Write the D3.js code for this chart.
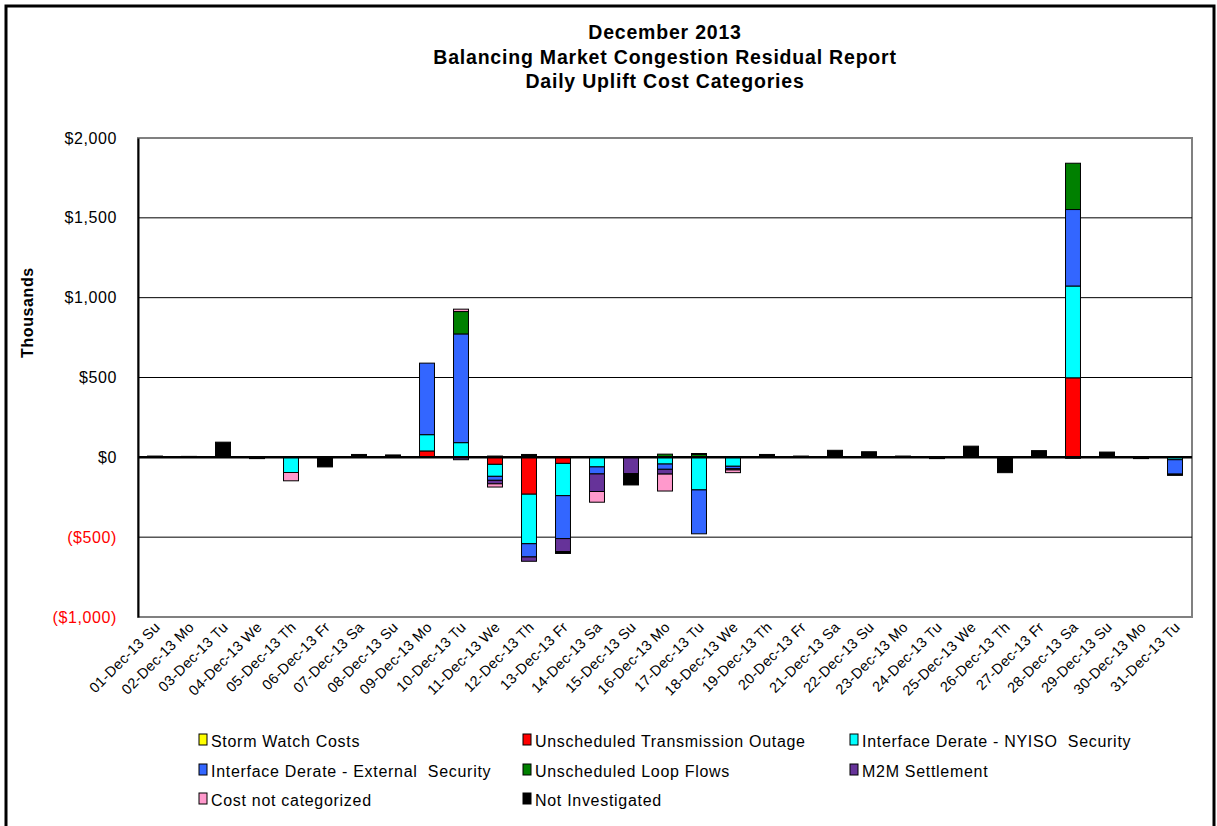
<!DOCTYPE html>
<html>
<head>
<meta charset="utf-8">
<script src="https://cdn.jsdelivr.net/npm/d3@7"></script>
<style>
  body { margin: 0; background: #fff; }
  svg { display: block; font-family: Arial, "Liberation Sans", sans-serif; }
</style>
</head>
<body>
<svg id="chart" width="1217" height="826"></svg>
<script>
// Day labels along the x axis
const days = [
    '01-Dec-13 Su', '02-Dec-13 Mo', '03-Dec-13 Tu', '04-Dec-13 We', '05-Dec-13 Th',
    '06-Dec-13 Fr', '07-Dec-13 Sa', '08-Dec-13 Su', '09-Dec-13 Mo', '10-Dec-13 Tu',
    '11-Dec-13 We', '12-Dec-13 Th', '13-Dec-13 Fr', '14-Dec-13 Sa', '15-Dec-13 Su',
    '16-Dec-13 Mo', '17-Dec-13 Tu', '18-Dec-13 We', '19-Dec-13 Th', '20-Dec-13 Fr',
    '21-Dec-13 Sa', '22-Dec-13 Su', '23-Dec-13 Mo', '24-Dec-13 Tu', '25-Dec-13 We',
    '26-Dec-13 Th', '27-Dec-13 Fr', '28-Dec-13 Sa', '29-Dec-13 Su', '30-Dec-13 Mo',
    '31-Dec-13 Tu'
];

// Series values, $ thousands, one per day
const stormWatch = [0,0,0,0,0, 0,0,0,0,0, 0,0,0,0,0, 0,0,0,0,0, 0,0,0,0,0, 0,0,0,0,0, 0];
const outage     = [0,0,0,0,0, 0,0,0,40,0, -44,-231,-38,0,0, 0,0,0,0,0, 0,0,0,0,0, 0,0,498,0,0, 0];
const nyisoSec   = [0,0,0,0,-95, 0,0,0,102,92, -75,-310,-202,-60,0, -42,-204,-56,0,0, 0,0,0,0,0, 0,0,575,0,0, -15];
const extSec     = [0,0,0,0,0, 0,0,0,448,681, -25,-83,-269,-44,0, -33,-275,-15,0,0, 0,0,0,0,0, 0,0,479,0,0, -90];
const loopFlows  = [0,0,0,0,0, 0,0,0,0,140, 0,0,0,0,0, 20,18,0,0,0, 0,0,0,0,0, 0,0,290,0,0, 0];
const m2m        = [0,0,0,0,0, 0,0,0,0,-15, -22,-27,-81,-110,-102, -30,0,-8,0,0, 0,0,0,0,0, 0,0,0,0,0, 0];
const notCat     = [0,0,0,0,-52, 0,0,0,0,15, -20,0,0,-67,0, -106,0,-17,0,0, 0,0,0,0,0, 0,0,0,0,0, 0];
const notInv     = [8,6,95,-8,0, -60,18,15,0,0, 8,18,-12,0,-71, 0,6,0,18,8, 44,35,8,-8,70, -96,42,-6,33,-8, -8];

const seriesNames = [
    'Storm Watch Costs', 'Unscheduled Transmission Outage', 'Interface Derate - NYISO  Security',
    'Interface Derate - External  Security', 'Unscheduled Loop Flows', 'M2M Settlement',
    'Cost not categorized', 'Not Investigated'
];
const seriesColors = ['#ffff00', '#ff0000', '#00ffff', '#3366ff', '#008000', '#663399', '#ff99cc', '#000000'];
const seriesValues = [stormWatch, outage, nyisoSec, extSec, loopFlows, m2m, notCat, notInv];

const yTicks = [-1000, -500, 0, 500, 1000, 1500, 2000];

// build table for d3.stack
const keys = d3.range(seriesNames.length);
const table = days.map((d, i) => {
    const row = { day: d };
    keys.forEach(k => { row[k] = seriesValues[k][i]; });
    return row;
});

const svg = d3.select('#chart');
const plot = { left: 138, right: 1192, top: 138, bottom: 617 };

const x = d3.scaleBand()
    .domain(days)
    .range([plot.left, plot.right])
    .paddingInner(0.56)
    .paddingOuter(0.28);

const y = d3.scaleLinear()
    .domain([-1000, 2000])
    .range([plot.bottom, plot.top]);

// outer frame
svg.append('rect')
    .attr('x', 6).attr('y', 6)
    .attr('width', 1208).attr('height', 900)
    .attr('fill', '#fff')
    .attr('stroke', '#000')
    .attr('stroke-width', 3);

// title
const titleLines = ['December 2013', 'Balancing Market Congestion Residual Report', 'Daily Uplift Cost Categories'];
svg.append('g')
    .selectAll('text')
    .data(titleLines)
    .join('text')
    .attr('x', (plot.left + plot.right) / 2)
    .attr('y', (d, i) => 39 + i * 24.5)
    .attr('text-anchor', 'middle')
    .attr('font-size', 19.5)
    .attr('letter-spacing', 0.8)
    .attr('font-weight', 'bold')
    .text(d => d);

// plot border (gray) and gridlines
svg.append('rect')
    .attr('x', plot.left).attr('y', plot.top)
    .attr('width', plot.right - plot.left).attr('height', plot.bottom - plot.top)
    .attr('fill', 'none')
    .attr('stroke', '#808080')
    .attr('stroke-width', 2);

svg.append('g')
    .selectAll('line')
    .data(yTicks.filter(t => t !== 0 && t !== 2000 && t !== -1000))
    .join('line')
    .attr('x1', plot.left).attr('x2', plot.right)
    .attr('y1', d => y(d)).attr('y2', d => y(d))
    .attr('stroke', '#000')
    .attr('stroke-width', 1);

// y axis
const yAxis = svg.append('g')
    .attr('transform', `translate(${plot.left},0)`)
    .call(d3.axisLeft(y).tickValues(yTicks).tickSize(0).tickPadding(21)
        .tickFormat(d => d < 0 ? `($${d3.format(',')(-d)})` : `$${d3.format(',')(d)}`));
yAxis.select('.domain').attr('stroke', '#000').attr('stroke-width', 2);
yAxis.selectAll('text')
    .attr('font-size', 16)
    .attr('letter-spacing', 0.6)
    .attr('font-family', 'Arial, "Liberation Sans", sans-serif')
    .attr('fill', d => d < 0 ? '#ff0000' : '#000');

svg.append('text')
    .attr('transform', `translate(33,${(plot.top + plot.bottom) / 2 - 65}) rotate(-90)`)
    .attr('text-anchor', 'middle')
    .attr('font-size', 16)
    .attr('letter-spacing', 0.6)
    .attr('font-weight', 'bold')
    .text('Thousands');

// stacked bars
const stacked = d3.stack().keys(keys).offset(d3.stackOffsetDiverging)(table);

svg.append('g')
    .selectAll('g')
    .data(stacked)
    .join('g')
    .attr('fill', d => seriesColors[d.key])
    .selectAll('rect')
    .data(d => d.filter(p => p[1] - p[0] !== 0))
    .join('rect')
    .attr('x', d => x(d.data.day))
    .attr('width', x.bandwidth())
    .attr('y', d => y(Math.max(d[0], d[1])))
    .attr('height', d => Math.abs(y(d[0]) - y(d[1])))
    .attr('stroke', '#000')
    .attr('stroke-width', 1);

// zero line on top
svg.append('line')
    .attr('x1', plot.left).attr('x2', plot.right)
    .attr('y1', y(0)).attr('y2', y(0))
    .attr('stroke', '#000')
    .attr('stroke-width', 2.5);

// x labels
svg.append('g')
    .selectAll('text')
    .data(days)
    .join('text')
    .attr('transform', d => `translate(${x(d) + x.bandwidth() / 2 + 6},${plot.bottom + 11}) rotate(-45)`)
    .attr('text-anchor', 'end')
    .attr('font-size', 14.5)
    .attr('letter-spacing', 0.3)
    .text(d => d);

// legend
const legendCols = [199, 523, 850];
const legendRows = [741, 771, 800];
const legend = svg.append('g')
    .selectAll('g')
    .data(seriesNames)
    .join('g')
    .attr('transform', (d, i) => `translate(${legendCols[i % 3]},${legendRows[Math.floor(i / 3)]})`);

legend.append('rect')
    .attr('x', 0).attr('y', -7)
    .attr('width', 8).attr('height', 11)
    .attr('fill', (d, i) => seriesColors[i])
    .attr('stroke', '#000')
    .attr('stroke-width', 1);

legend.append('text')
    .attr('x', 12).attr('y', 6)
    .attr('font-size', 16)
    .attr('letter-spacing', 0.7)
    .attr('xml:space', 'preserve')
    .style('white-space', 'pre')
    .text(d => d);
</script>
</body>
</html>
